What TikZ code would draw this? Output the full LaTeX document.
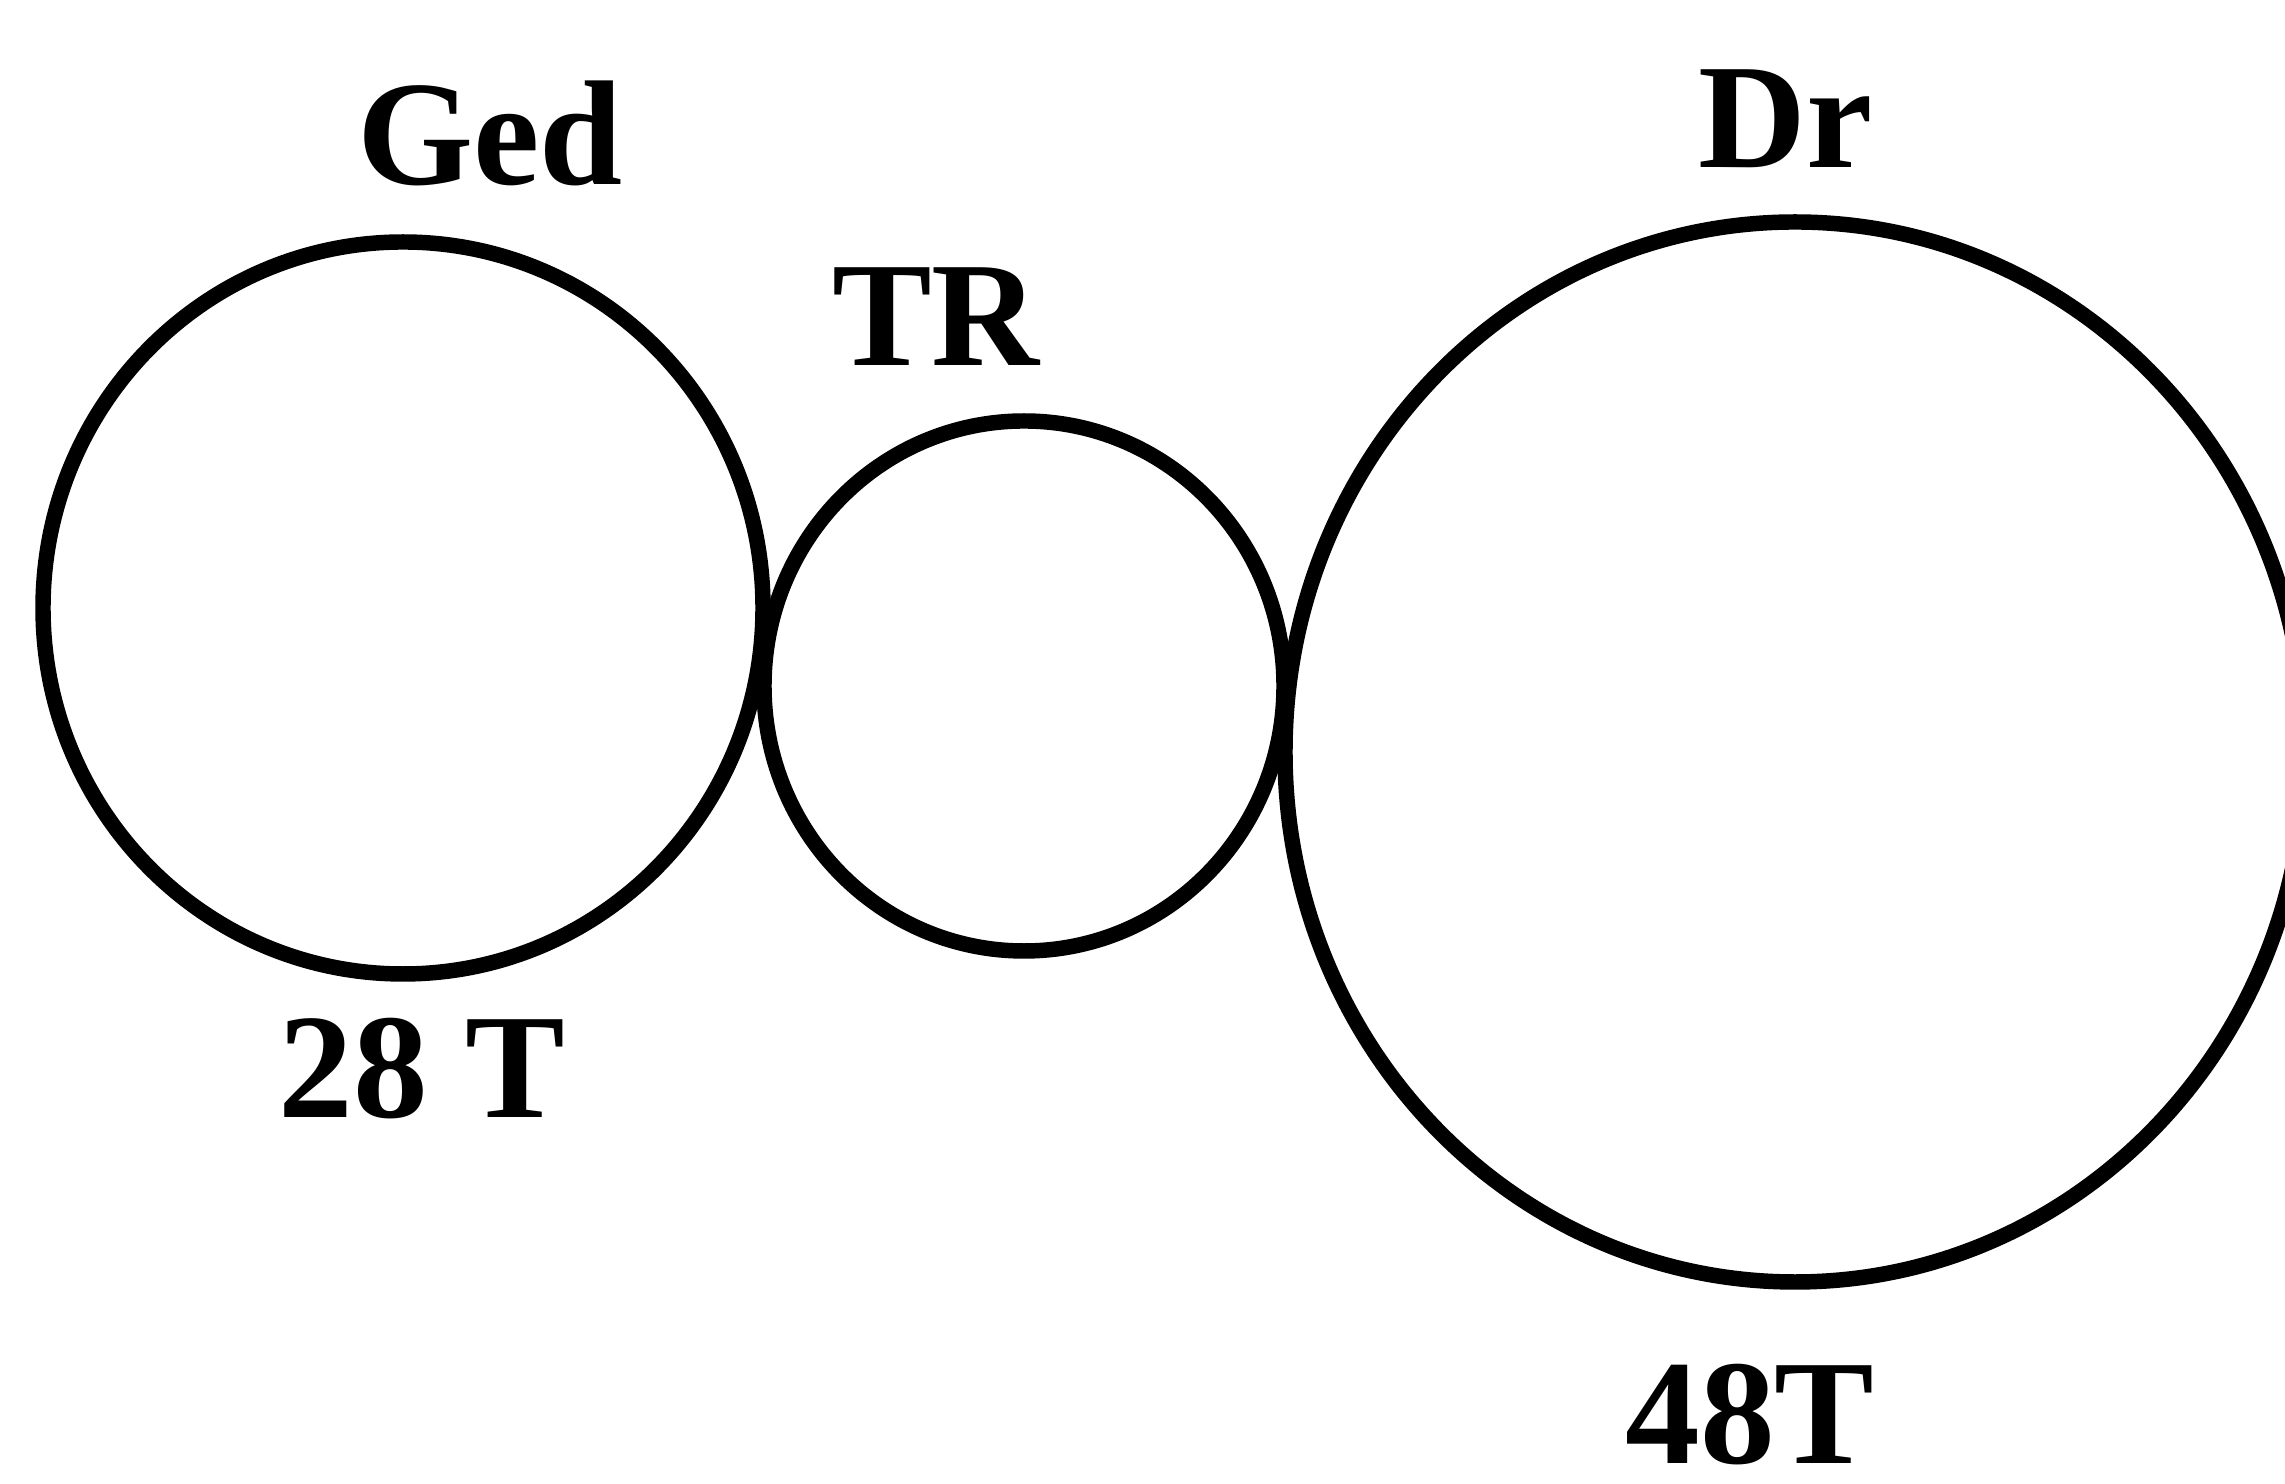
\documentclass[tikz,border=0pt]{standalone}
\usepackage{fontspec}
\setmainfont{Liberation Serif}
\usetikzlibrary{shapes.geometric}

\tikzset{
  gear/.style={ellipse, draw=black, line width=4.4pt, inner sep=0pt, outer sep=0pt},
  gearlabel/.style={anchor=base, inner sep=0pt, font=\fontsize{42.5}{48}\selectfont\bfseries}
}

\begin{document}
\begin{tikzpicture}
  \useasboundingbox (0,0) rectangle (22.85,14.84);
  \clip (0,0) rectangle (22.85,14.84);
  \fill[white] (0,0) rectangle (22.85,14.84);

  % three meshing gears
  \node[gear, minimum width=7.20cm, minimum height=7.32cm] (ged) at (4.03,8.76) {};
  \node[gear, minimum width=5.20cm, minimum height=5.30cm] (tr)  at (10.24,7.98) {};
  \node[gear, minimum width=10.20cm, minimum height=10.60cm] (dr) at (17.95,7.32) {};

  % names and tooth counts
  \node[gearlabel] (gedname) at (4.90,12.99) {Ged};
  \node[gearlabel] (trname)  at (9.36,11.18) {TR};
  \node[gearlabel] (drname)  at (17.86,13.16) {Dr};
  \node[gearlabel] (gedteeth) at (4.22,3.66) {28 T};
  \node[gearlabel] (drteeth)  at (17.50,0.20) {48T};
\end{tikzpicture}
\end{document}
